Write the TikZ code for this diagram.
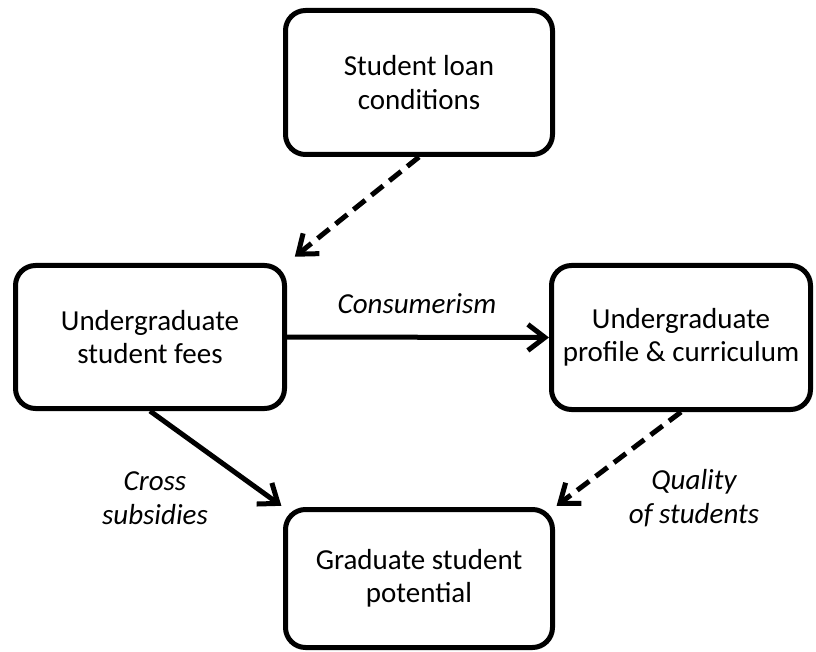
\documentclass[tikz,border=0pt]{standalone}
\usepackage{fontspec}
\setmainfont{Carlito}
\usetikzlibrary{arrows.meta,shadows}
\begin{document}
\begin{tikzpicture}[x=1pt,y=-1pt,
  box/.style={draw=black, line width=5pt, rounded corners=20pt, fill=white, align=center,
    font=\fontsize{29}{33.5}\selectfont, inner sep=0pt,
    drop shadow={opacity=0.22, shadow xshift=1.5pt, shadow yshift=-2pt}},
  conn/.style={line width=5pt, -{Straight Barb[length=17pt,width=26pt]}},
  dashconn/.style={conn, dash pattern=on 15pt off 8pt},
  lbl/.style={font=\fontsize{29}{33.5}\selectfont\itshape, align=center, inner sep=0pt}]
\useasboundingbox (0,0) rectangle (816,652);
\node[box, minimum width=267pt, minimum height=144pt] (top) at (419,82.5) {Student loan\\conditions};
\node[box, minimum width=269pt, minimum height=143pt] (left) at (150,337) {Undergraduate\\student fees};
\node[box, minimum width=259pt, minimum height=144pt] (right) at (681,337.5) {Undergraduate\\profile \& curriculum};
\node[box, minimum width=267pt, minimum height=138pt] (bottom) at (419,578.5) {Graduate student\\potential};

\draw[dashconn, shorten >=10pt] (top.south) -- (left.north east);
\draw[conn] (left.east) -- (right.west);
\draw[conn, shorten >=2pt] (left.south) -- (bottom.north west);
\draw[dashconn, shorten >=2pt] (right.south) -- (bottom.north east);

\node[lbl, anchor=base] (lcons) at (417,313) {Consumerism};
\node[lbl] (lcross) at (155,498) {Cross\\subsidies};
\node[lbl] (lqual) at (694,498) {Quality\\of students};
\end{tikzpicture}
\end{document}
